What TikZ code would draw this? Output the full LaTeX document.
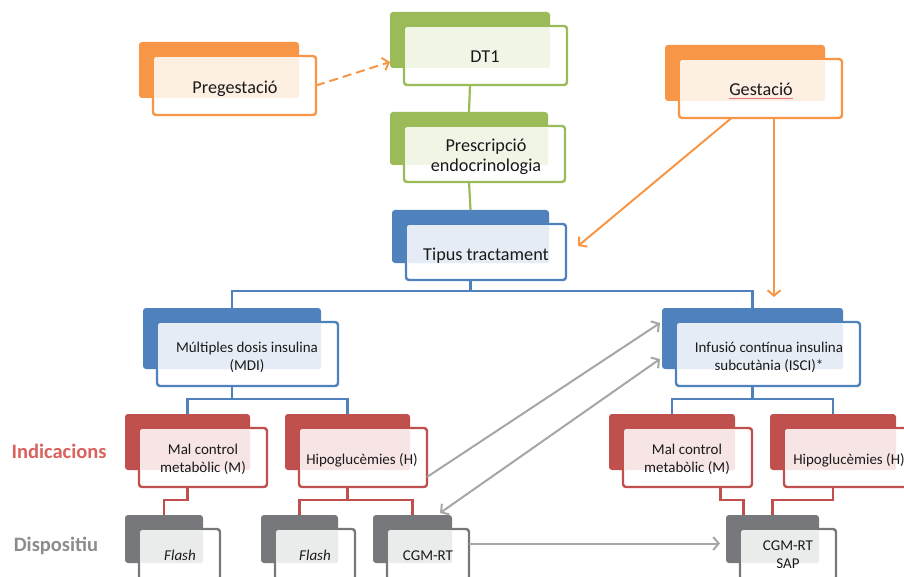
\documentclass[tikz,border=0pt]{standalone}
\usepackage{fontspec}
\setmainfont{Carlito}
\usetikzlibrary{arrows.meta,calc}
\definecolor{arancio}{HTML}{F79646}
\definecolor{verde}{HTML}{9BBB59}
\definecolor{blu}{HTML}{4F81BD}
\definecolor{rosso}{HTML}{C0504D}
\definecolor{grigio}{HTML}{76787B}
\definecolor{grigiochiaro}{HTML}{A6A6A6}
\definecolor{rossotitolo}{HTML}{D9625E}
\definecolor{grigiotitolo}{HTML}{8C8C8C}
\definecolor{rosa}{HTML}{E8747C}
\definecolor{scritta}{HTML}{1A1A1A}
\tikzset{
>={Straight Barb[length=5.5pt,width=13pt]},
retro/.style={rectangle,rounded corners=3pt,inner sep=0pt,outer sep=0pt,anchor=north west},
fronte/.style={retro,fill=white,line width=2.4pt},
grande/.style={font=\fontsize{18.2}{20}\selectfont},
piccolo/.style={font=\fontsize{15}{18}\selectfont},
testo/.style={anchor=base,inner sep=0pt,align=center,text=scritta},
titolo/.style={anchor=base,inner sep=0pt,font=\fontsize{20.5}{24}\selectfont\bfseries},
linea/.style={line width=2.2pt},
freccia/.style={->,line width=2pt}}

\begin{document}
\begin{tikzpicture}[x=1pt,y=-1pt]
\useasboundingbox (0,0) rectangle (904,577);
\clip (0,0) rectangle (904,577);

% caixes: fons, marc i ombra
\foreach \nm/\x/\y/\w/\h/\col in {
  pre/139/42/160/56/arancio, dt/390/12/160/56/verde, pr/390/112/158/53/verde,
  ge/665/45/160/56/arancio, tt/392/210/157/53/blu,
  mdi/143/308/178/61/blu, isci/662/308/181/61/blu,
  ml/125/414/125/56/rosso, hl/285/414/125/56/rosso,
  mr/609/414/126/56/rosso, hr/770/414/126/56/rosso,
  f1/125/515/78/48/grigio, f2/261/515/77/48/grigio,
  cl/373/515/79/48/grigio, sap/726/515/93/48/grigio}{
  \node[retro,fill=\col,minimum width=\w,minimum height=\h] (\nm) at (\x,\y) {};
  \node[fronte,draw=\col,minimum width=\w+3,minimum height=\h+3] (\nm-f) at ([shift={(14,14)}]\nm.north west) {};
  \fill[fill=\col!15,rounded corners=2pt] ([shift={(1.2,1.2)}]\nm-f.north west) rectangle (\nm.south east);
}

% arbre
\draw[linea,verde] (dt.south |- dt-f.south) -- (pr.north);
\draw[linea,verde] (pr.south |- pr-f.south) -- (tt.north);
\draw[linea,blu] (tt.south |- tt-f.south) -- ++(0,11) coordinate (b1);
\draw[linea,blu] (mdi.north) |- (b1) -| (isci.north);
\draw[linea,blu] (mdi.south |- mdi-f.south) -- ++(0,13) coordinate (b2);
\draw[linea,blu] (ml.north) |- (b2) -| (hl.north);
\draw[linea,blu] (isci.south |- isci-f.south) -- ++(0,13) coordinate (b3);
\draw[linea,blu] (mr.north) |- (b3) -| (hr.north);
\draw[linea,rosso] (ml.south |- ml-f.south) -- ++(0,13) -| (f1.north);
\draw[linea,rosso] (hl.south |- hl-f.south) -- ++(0,13) coordinate (r1);
\draw[linea,rosso] (f2.north) |- (r1) -| (cl.north);
\draw[linea,rosso] ([xshift=33pt]mr-f.south) -- ++(0,13) -| ([xshift=-29pt]sap.north);
\draw[linea,rosso] (hr.south |- hr-f.south) -- ++(0,13) -| (sap.north);

% fletxes
\draw[freccia,arancio,dash pattern=on 9pt off 5pt] (pre-f.east) -- ([yshift=-22pt]dt.west);
\draw[freccia,arancio] ([xshift=-29pt]ge-f.south) -- ([shift={(12,-6)}]tt-f.east);
\draw[freccia,arancio] ([xshift=13.5pt]ge-f.south) -- ++(0,179) coordinate (ge-p);
\draw[freccia,grigiochiaro] ([yshift=10pt]hl-f.south east) -- ([shift={(-2,15)}]isci.north west);
\draw[freccia,grigiochiaro,<->] ([shift={(-12,-2)}]cl.north east) -- ([shift={(-2,-10)}]isci.south west);
\draw[freccia,grigiochiaro] ([yshift=11pt]cl-f.east) -- ([xshift=-6pt,yshift=11pt]cl-f.east -| sap.west);

% textos
\node[testo,grande] (t-pre) at (235,94) {Pregestació};
\node[testo,grande] (t-dt) at (485,63) {DT1};
\node[testo,grande] (t-pr) at (486,172) {Prescripció\\endocrinologia};
\node[testo,grande] (t-ge) at (761,96) {Gestació};
\draw[rosa,line width=1pt] ([yshift=-3pt]t-ge.base west) -- ([yshift=-3pt]t-ge.base east);
\node[testo,grande] (t-tt) at (486,261) {Tipus tractament};
\node[testo,piccolo] (t-mdi) at (247,370) {Múltiples dosis insulina\\(MDI)};
\node[testo,piccolo] (t-isci) at (769,370) {Infusió contínua insulina\\subcutània (ISCI)*};
\node[testo,piccolo] (t-ml) at (203,472) {Mal control\\metabòlic (M)};
\node[testo,piccolo] (t-hl) at (362,464) {Hipoglucèmies (H)};
\node[testo,piccolo] (t-mr) at (687,472) {Mal control\\metabòlic (M)};
\node[testo,piccolo] (t-hr) at (849,464) {Hipoglucèmies (H)};
\node[testo,piccolo] (t-f1) at (180,560) {\itshape Flash};
\node[testo,piccolo] (t-f2) at (315,560) {\itshape Flash};
\node[testo,piccolo] (t-cl) at (428,560) {CGM-RT};
\node[testo,piccolo] (t-sap) at (788,568) {CGM-RT\\SAP};
\node[titolo,text=rossotitolo] (indic) at (59,458) {Indicacions};
\node[titolo,text=grigiotitolo] (disp) at (56,551) {Dispositiu};
\end{tikzpicture}
\end{document}
